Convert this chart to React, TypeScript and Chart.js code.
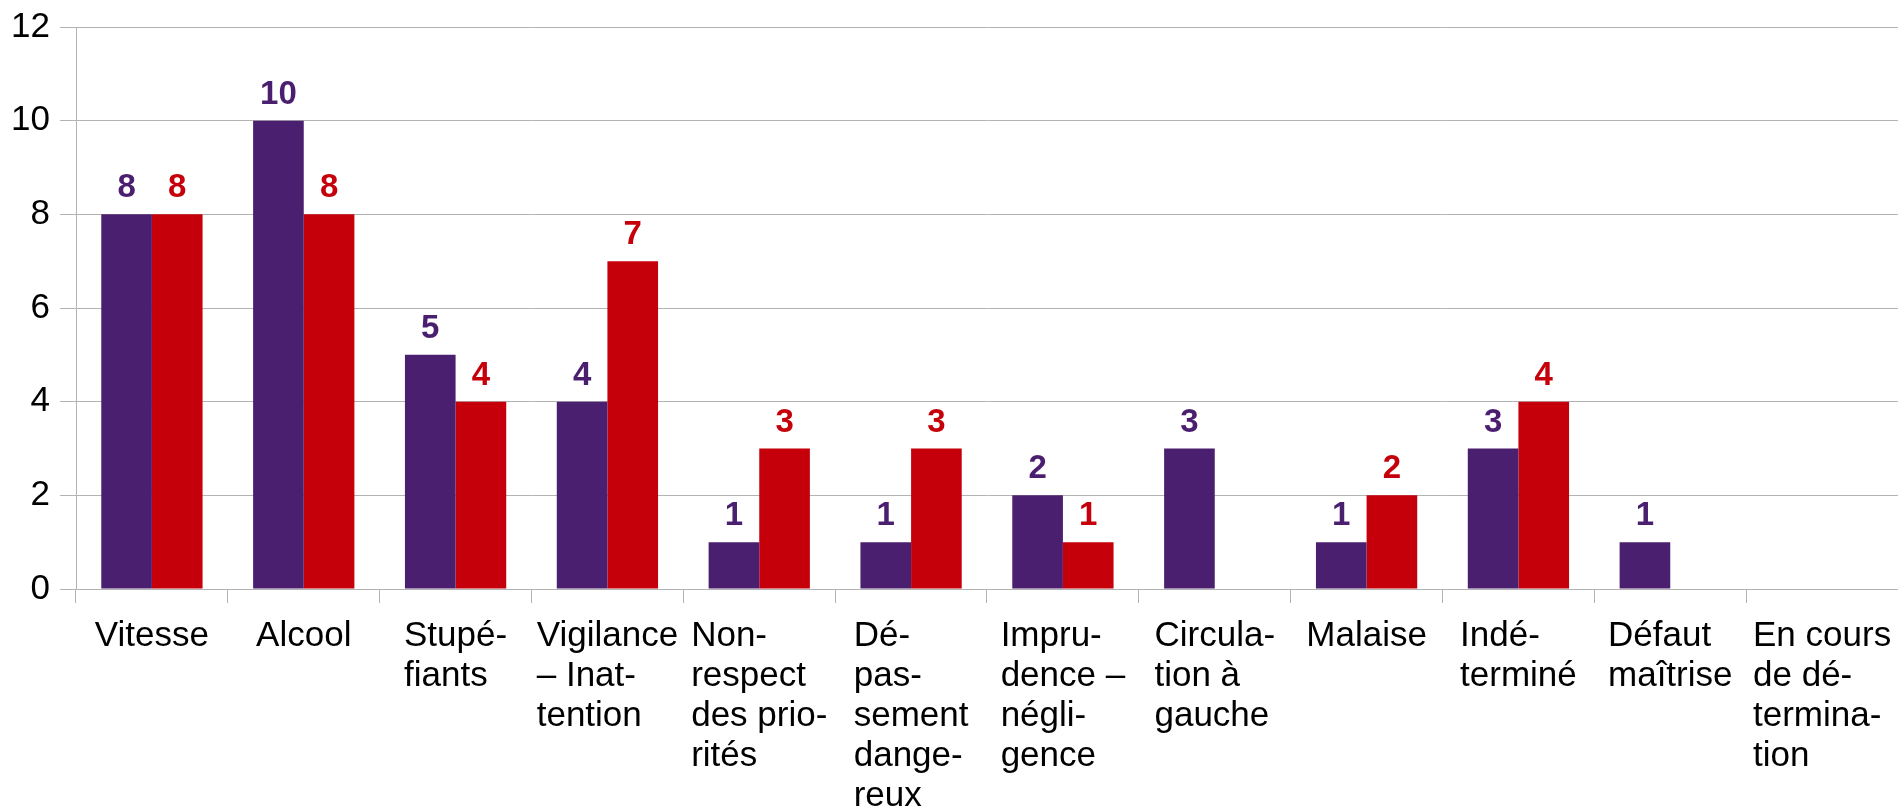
import React, { useEffect, useRef } from "react";
import { Chart, registerables } from "chart.js";

Chart.register(...registerables);

// Category labels, already split into the lines shown under the axis
const categoryLines: string[][] = [
  ["Vitesse"],
  ["Alcool"],
  ["Stupé-", "fiants"],
  ["Vigilance", "– Inat-", "tention"],
  ["Non-", "respect", "des prio-", "rités"],
  ["Dé-", "pas-", "sement", "dange-", "reux"],
  ["Impru-", "dence –", "négli-", "gence"],
  ["Circula-", "tion à", "gauche"],
  ["Malaise"],
  ["Indé-", "terminé"],
  ["Défaut", "maîtrise"],
  ["En cours", "de dé-", "termina-", "tion"],
];

const seriesPurple: (number | null)[] = [8, 10, 5, 4, 1, 1, 2, 3, 1, 3, 1, null];
const seriesRed: (number | null)[] = [8, 8, 4, 7, 3, 3, 1, null, 2, 4, null, null];

const yMin = 0;
const yMax = 12;
const yStep = 2;

const PURPLE = "#4b1f6f";
const RED = "#c5000b";
const GRID = "#b3b3b3";
const FONT = "'Liberation Sans', Arial, sans-serif";

const valueLabelPlugin = {
  id: "valueLabels",
  afterDatasetsDraw(chart: any) {
    const ctx = chart.ctx;
    ctx.save();
    ctx.font = `bold 33px ${FONT}`;
    ctx.textAlign = "center";
    ctx.textBaseline = "alphabetic";
    chart.data.datasets.forEach((ds: any, di: number) => {
      const meta = chart.getDatasetMeta(di);
      ctx.fillStyle = ds.backgroundColor;
      meta.data.forEach((bar: any, i: number) => {
        const v = ds.data[i];
        if (v === null || v === undefined) return;
        ctx.fillText(String(v), bar.x, bar.y - 17);
      });
    });
    ctx.restore();
  },
};

const categoryLabelPlugin = {
  id: "categoryLabels",
  afterDraw(chart: any) {
    const ctx = chart.ctx;
    const xs = chart.scales.x;
    ctx.save();
    ctx.font = `35px ${FONT}`;
    ctx.fillStyle = "#000000";
    ctx.textAlign = "left";
    ctx.textBaseline = "alphabetic";
    const firstBaseline = xs.top + 57;
    const lineGap = 40;
    categoryLines.forEach((lines, i) => {
      const cx = xs.getPixelForValue(i);
      const w = Math.max(...lines.map((l) => ctx.measureText(l).width));
      const left = cx - w / 2;
      lines.forEach((l, j) => {
        ctx.fillText(l, left, firstBaseline + j * lineGap);
      });
    });
    ctx.restore();
  },
};

export default function App() {
  const canvasRef = useRef<HTMLCanvasElement | null>(null);

  useEffect(() => {
    if (!canvasRef.current) return;
    const chart = new Chart(canvasRef.current, {
      type: "bar",
      data: {
        labels: categoryLines.map((l) => l.join(" ")),
        datasets: [
          {
            label: "Série 1",
            data: seriesPurple,
            backgroundColor: PURPLE,
            borderWidth: 0,
            categoryPercentage: 0.667,
            barPercentage: 1.0,
          },
          {
            label: "Série 2",
            data: seriesRed,
            backgroundColor: RED,
            borderWidth: 0,
            categoryPercentage: 0.667,
            barPercentage: 1.0,
          },
        ],
      },
      options: {
        responsive: false,
        animation: false,
        devicePixelRatio: 1,
        layout: { padding: { top: 27, left: 0, right: 0, bottom: 0 } },
        plugins: {
          legend: { display: false },
          tooltip: { enabled: false },
          title: { display: false },
        },
        scales: {
          x: {
            offset: true,
            grid: {
              display: true,
              drawOnChartArea: false,
              drawTicks: true,
              tickLength: 14,
              color: GRID,
              offset: true,
            },
            border: { display: true, color: GRID, width: 1 },
            ticks: { display: false },
            afterFit: (s: any) => {
              s.height = 219;
              s.paddingLeft = 0;
              s.paddingRight = 0;
              s.paddingTop = 0;
              s.paddingBottom = 0;
            },
          },
          y: {
            min: yMin,
            max: yMax,
            grid: {
              color: GRID,
              lineWidth: 1,
              drawTicks: true,
              tickLength: 16,
            },
            border: { display: true, color: GRID, width: 1 },
            ticks: {
              stepSize: yStep,
              color: "#000000",
              padding: 10,
              font: { family: FONT, size: 35 },
            },
            afterFit: (s: any) => {
              s.width = 76;
              s.paddingTop = 0;
              s.paddingBottom = 0;
              s.paddingLeft = 0;
              s.paddingRight = 0;
            },
          },
        },
      },
      plugins: [valueLabelPlugin, categoryLabelPlugin],
    });
    return () => chart.destroy();
  }, []);

  return (
    <div style={{ position: "absolute", left: 0, top: 0, width: 1898, height: 808, background: "#fff" }}>
      <canvas ref={canvasRef} width={1898} height={808} />
    </div>
  );
}
